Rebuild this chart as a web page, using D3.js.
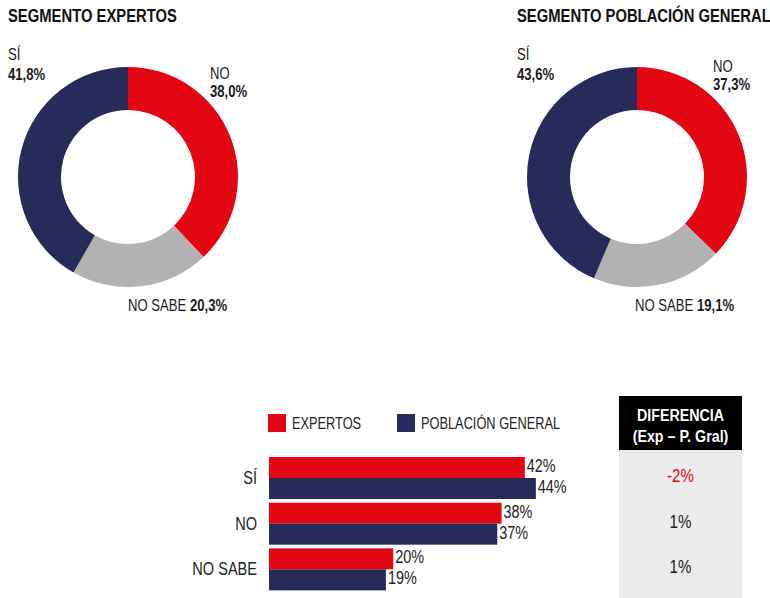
<!DOCTYPE html>
<html><head><meta charset="utf-8">
<script src="https://cdn.jsdelivr.net/npm/d3@7"></script>
<style>
body{margin:0;background:#fff;}
svg text{font-family:"Liberation Sans",Arial,Helvetica,sans-serif;}
</style></head>
<body><svg id="c" width="770" height="598"></svg>
<script>
const categories = ["NO", "NO SABE", "SÍ"];
const expertos = [38.0, 20.3, 41.8];
const poblacion = [37.3, 19.1, 43.6];
const barCategories = ["SÍ", "NO", "NO SABE"];
const barExpertos = [41.8, 38.0, 20.3];
const barPoblacion = [43.6, 37.3, 19.1];
const diferencias = [-2, 1, 1];
const seriesNames = ["EXPERTOS", "POBLACIÓN GENERAL"];

const RED = "#E30613", NAVY = "#262B5A", GREY = "#B2B2B2";
const colors = {"NO": RED, "NO SABE": GREY, "SÍ": NAVY};
const svg = d3.select("#c");
const fmt = v => v.toFixed(1).replace(".", ",") + "%";
const SX = 0.8;

function T(x, y, s, o = {}) {
  return svg.append("text")
    .attr("transform", `translate(${x},${y}) scale(${o.sx || SX},1)`)
    .attr("font-size", o.size || 16)
    .attr("font-weight", o.bold ? "bold" : "normal")
    .attr("text-anchor", o.anchor || "start")
    .attr("fill", o.fill || "#1a1a1a")
    .text(s);
}

function donut(cx, cy, title, titleX, values, lab) {
  T(titleX, 22, title, {size: 18.5, bold: true, fill: "#111"});
  const pie = d3.pie().sort(null).value(d => d.v);
  const arc = d3.arc().innerRadius(67).outerRadius(110);
  const data = categories.map((c, i) => ({c, v: values[i]}));
  const g = svg.append("g").attr("transform", `translate(${cx},${cy})`);
  g.selectAll("path").data(pie(data)).join("path").attr("d", arc).attr("fill", d => colors[d.data.c]);
  T(lab.si[0], lab.si[1], "SÍ", {size: 16.4});
  T(lab.si[0], lab.si[1] + 20, fmt(values[2]), {size: 16.4, bold: true});
  T(lab.no[0], lab.no[1], "NO", {size: 16.4});
  T(lab.no[0], lab.no[1] + 18, fmt(values[0]), {size: 16.4, bold: true});
  const ns = T(lab.ns[0], lab.ns[1], "", {size: 16.4});
  ns.append("tspan").text("NO SABE ");
  ns.append("tspan").attr("font-weight", "bold").text(fmt(values[1]));
}
donut(128, 177, "SEGMENTO EXPERTOS", 8, expertos, {si: [8, 60], no: [210, 79], ns: [128, 311]});
donut(637, 177, "SEGMENTO POBLACIÓN GENERAL", 517, poblacion, {si: [517, 60], no: [713, 72], ns: [635, 311]});

// legend
const legX = [268, 397];
seriesNames.forEach((n, i) => {
  svg.append("rect").attr("x", legX[i]).attr("y", 414).attr("width", 18).attr("height", 18).attr("fill", i ? NAVY : RED);
  T(legX[i] + 24, 429, n, {size: 16, fill: "#222"});
});

// bars
const x = d3.scaleLinear().domain([0, 100]).range([269, 881]);
const y = d3.scaleBand().domain(barCategories).range([457, 592]).paddingInner(0.045).paddingOuter(0);
const bh = 21;
barCategories.forEach((c, i) => {
  const y0 = y(c);
  [[barExpertos[i], RED], [barPoblacion[i], NAVY]].forEach(([v, col], j) => {
    const yy = y0 + j * bh;
    svg.append("rect").attr("x", x(0)).attr("y", yy).attr("width", x(v) - x(0)).attr("height", bh).attr("fill", col);
    T(x(v) + 2, yy + 15, Math.round(v) + "%", {size: 18, fill: "#222"});
  });
  T(257, y0 + bh + 6, c, {size: 18.2, anchor: "end", fill: "#222"});
});

// difference box
svg.append("rect").attr("x", 619).attr("y", 450).attr("width", 123).attr("height", 148).attr("fill", "#EBEBEB");
svg.append("rect").attr("x", 619).attr("y", 396).attr("width", 123).attr("height", 54).attr("fill", "#000");
T(680.5, 421, "DIFERENCIA", {size: 17, bold: true, fill: "#fff", anchor: "middle", sx: 0.84});
T(680.5, 442, "(Exp – P. Gral)", {size: 17, bold: true, fill: "#fff", anchor: "middle", sx: 0.84});
barCategories.forEach((c, i) => {
  T(680.5, y(c) + bh + 4, diferencias[i] + "%", {size: 18, anchor: "middle", sx: 0.84, fill: diferencias[i] < 0 ? RED : "#222"});
});
</script></body></html>
